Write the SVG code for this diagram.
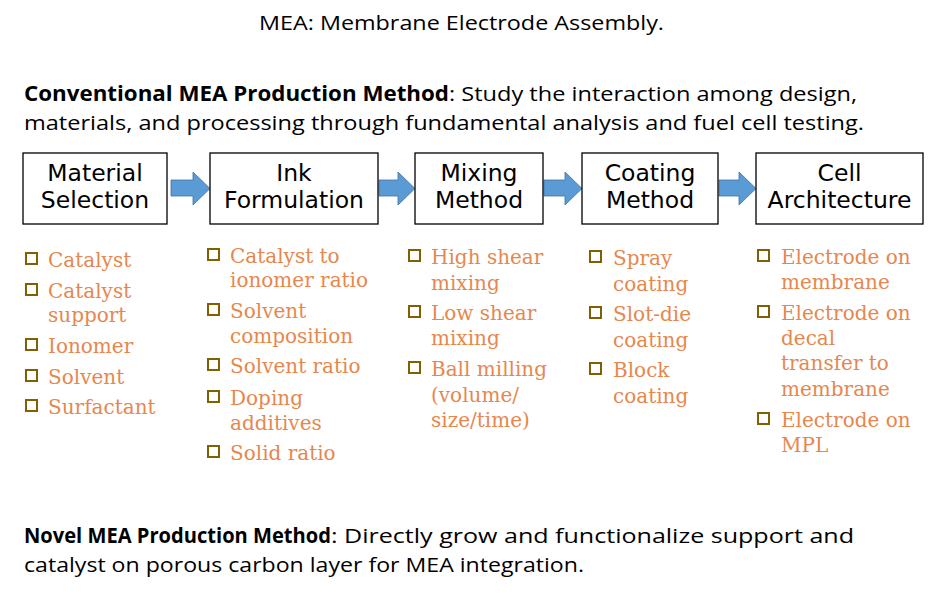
<svg xmlns="http://www.w3.org/2000/svg" width="934" height="607" viewBox="0 0 934 607">
<style>
.hd{font-family:"Open Sans","Noto Sans","Liberation Sans",sans-serif;font-size:20.5px;fill:#000}
.b{font-weight:bold}
.box{fill:#fff;stroke:#000;stroke-width:1.3}
.bt{font-family:"DejaVu Sans","Liberation Sans",sans-serif;font-size:23.5px;fill:#000;text-anchor:middle}
.li{font-family:"DejaVu Serif","Liberation Serif",serif;font-size:20px;fill:#E6874E}
.cb{fill:none;stroke:#806000;stroke-width:2}
.arr{fill:#5B9BD5;stroke:#41719C;stroke-width:0.8}
</style>
<rect width="934" height="607" fill="#fff"/>
<g id="title">
<text class="hd" x="259" y="30" textLength="405" lengthAdjust="spacingAndGlyphs">MEA: Membrane Electrode Assembly.</text>
</g>
<g id="conventional">
<text class="hd b" x="24" y="101" textLength="425" lengthAdjust="spacingAndGlyphs">Conventional MEA Production Method</text>
<text class="hd" x="449" y="101" textLength="408" lengthAdjust="spacingAndGlyphs">: Study the interaction among design,</text>
<text class="hd" x="24" y="130" textLength="840" lengthAdjust="spacingAndGlyphs">materials, and processing through fundamental analysis and fuel cell testing.</text>
</g>
<g id="connectors">
<polygon class="arr" points="171,180 193,180 193,172 210,188.5 193,205 193,196 171,196"/>
<polygon class="arr" points="379,180 398,180 398,172 415,188.5 398,205 398,196 379,196"/>
<polygon class="arr" points="544,180 565,180 565,172 582,188.5 565,205 565,196 544,196"/>
<polygon class="arr" points="719,180 739,180 739,172 756,188.5 739,205 739,196 719,196"/>
</g>
<g id="node-material">
<rect class="box" x="23" y="153" width="144" height="71"/>
<text class="bt" x="95" y="181">Material</text>
<text class="bt" x="95" y="208">Selection</text>
</g>
<g id="node-ink">
<rect class="box" x="210" y="153" width="168" height="71"/>
<text class="bt" x="294" y="181">Ink</text>
<text class="bt" x="294" y="208">Formulation</text>
</g>
<g id="node-mixing">
<rect class="box" x="415" y="153" width="128" height="71"/>
<text class="bt" x="479" y="181">Mixing</text>
<text class="bt" x="479" y="208">Method</text>
</g>
<g id="node-coating">
<rect class="box" x="582" y="153" width="136" height="71"/>
<text class="bt" x="650" y="181">Coating</text>
<text class="bt" x="650" y="208">Method</text>
</g>
<g id="node-cell">
<rect class="box" x="756" y="153" width="167" height="71"/>
<text class="bt" x="839.5" y="181">Cell</text>
<text class="bt" x="839.5" y="208">Architecture</text>
</g>
<g id="list-material">
<rect class="cb" x="26" y="253" width="11" height="11"/><text class="li" x="48" y="267">Catalyst</text>
<rect class="cb" x="26" y="284" width="11" height="11"/><text class="li" x="48" y="298">Catalyst</text>
<text class="li" x="48" y="322">support</text>
<rect class="cb" x="26" y="339" width="11" height="11"/><text class="li" x="48" y="353">Ionomer</text>
<rect class="cb" x="26" y="370" width="11" height="11"/><text class="li" x="48" y="384">Solvent</text>
<rect class="cb" x="26" y="400" width="11" height="11"/><text class="li" x="48" y="414">Surfactant</text>
</g>
<g id="list-ink">
<rect class="cb" x="208" y="249" width="11" height="11"/><text class="li" x="230" y="263">Catalyst to</text>
<text class="li" x="230" y="287">ionomer ratio</text>
<rect class="cb" x="208" y="304" width="11" height="11"/><text class="li" x="230" y="318">Solvent</text>
<text class="li" x="230" y="343">composition</text>
<rect class="cb" x="208" y="359" width="11" height="11"/><text class="li" x="230" y="373">Solvent ratio</text>
<rect class="cb" x="208" y="391" width="11" height="11"/><text class="li" x="230" y="405">Doping</text>
<text class="li" x="230" y="430">additives</text>
<rect class="cb" x="208" y="446" width="11" height="11"/><text class="li" x="230" y="460">Solid ratio</text>
</g>
<g id="list-mixing">
<rect class="cb" x="409" y="250" width="11" height="11"/><text class="li" x="431" y="264">High shear</text>
<text class="li" x="431" y="290">mixing</text>
<rect class="cb" x="409" y="306" width="11" height="11"/><text class="li" x="431" y="320">Low shear</text>
<text class="li" x="431" y="345">mixing</text>
<rect class="cb" x="409" y="362" width="11" height="11"/><text class="li" x="431" y="376">Ball milling</text>
<text class="li" x="431" y="402">(volume/</text>
<text class="li" x="431" y="427">size/time)</text>
</g>
<g id="list-coating">
<rect class="cb" x="590" y="251" width="11" height="11"/><text class="li" x="613" y="265">Spray</text>
<text class="li" x="613" y="291">coating</text>
<rect class="cb" x="590" y="307" width="11" height="11"/><text class="li" x="613" y="321">Slot-die</text>
<text class="li" x="613" y="347">coating</text>
<rect class="cb" x="590" y="363" width="11" height="11"/><text class="li" x="613" y="377">Block</text>
<text class="li" x="613" y="403">coating</text>
</g>
<g id="list-cell">
<rect class="cb" x="758" y="250" width="11" height="11"/><text class="li" x="781" y="264">Electrode on</text>
<text class="li" x="781" y="289">membrane</text>
<rect class="cb" x="758" y="306" width="11" height="11"/><text class="li" x="781" y="320">Electrode on</text>
<text class="li" x="781" y="345">decal</text>
<text class="li" x="781" y="370">transfer to</text>
<text class="li" x="781" y="396">membrane</text>
<rect class="cb" x="758" y="413" width="11" height="11"/><text class="li" x="781" y="427">Electrode on</text>
<text class="li" x="781" y="452">MPL</text>
</g>
<g id="novel">
<text class="hd b" x="24" y="543" textLength="307" lengthAdjust="spacingAndGlyphs">Novel MEA Production Method</text>
<text class="hd" x="331" y="543" textLength="523" lengthAdjust="spacingAndGlyphs">: Directly grow and functionalize support and</text>
<text class="hd" x="24" y="572" textLength="560" lengthAdjust="spacingAndGlyphs">catalyst on porous carbon layer for MEA integration.</text>
</g>
</svg>
